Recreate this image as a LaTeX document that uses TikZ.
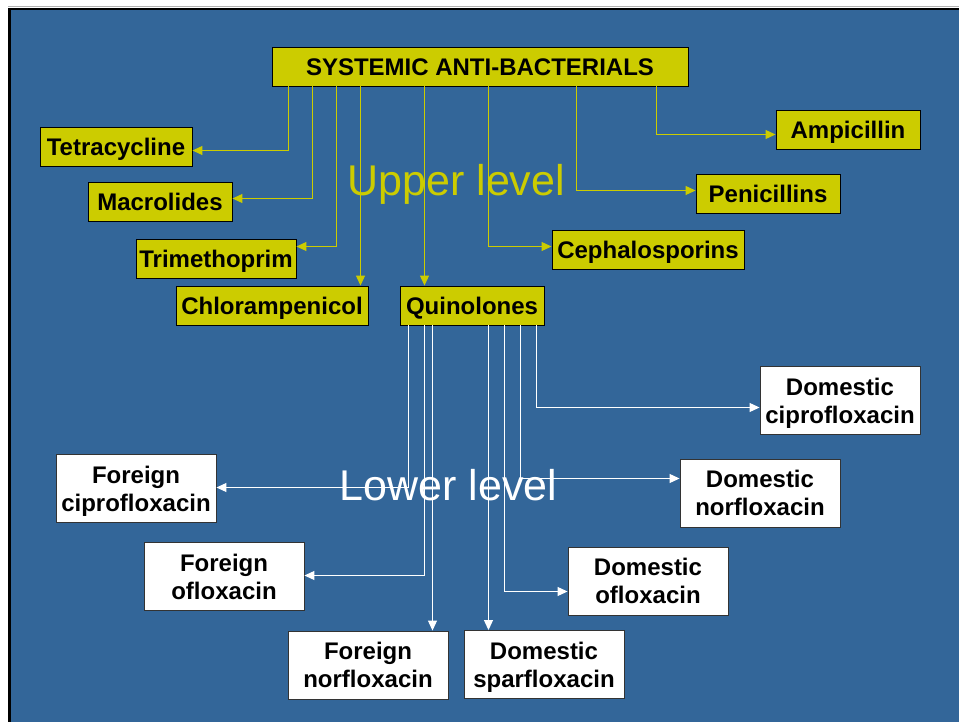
\documentclass[tikz,border=0pt]{standalone}
\usepackage{fontspec}
\setmainfont{Liberation Sans}
\usetikzlibrary{arrows.meta}
\definecolor{bgblue}{HTML}{336699}
\definecolor{ylw}{HTML}{CCCC00}
\begin{document}
\begin{tikzpicture}[x=1pt,y=-1pt,
 ybox/.style={draw=black, line width=0.9pt, fill=ylw, inner sep=0pt, minimum height=39pt, text height=17.2pt, text depth=0pt, font=\fontsize{24}{28}\selectfont\bfseries},
 wbox/.style={draw=black!80, line width=0.9pt, fill=white, inner sep=0pt, minimum width=160pt, minimum height=68pt, text depth=0pt, align=center, font=\fontsize{24}{28}\selectfont\bfseries},
 yarr/.style={draw=ylw, line width=1.1pt, xshift=0.5pt, yshift=-0.5pt, -{Triangle[length=10pt,width=9pt]}},
 warr/.style={draw=white, line width=1.1pt, xshift=0.5pt, yshift=-0.5pt, -{Triangle[length=10pt,width=9pt]}},
 bigtxt/.style={font=\fontsize{43}{50}\selectfont, inner sep=0pt, anchor=base west}]
\useasboundingbox (0,0) rectangle (959,722);
\fill[white] (0,0) rectangle (959,722);
\draw[gray!60, line width=0.8pt] (8,6.5) -- (959,6.5);
\draw[fill=bgblue, draw=black, line width=2.5pt] (9.5,9) rectangle (975,740);

% upper level nodes
\node[ybox, minimum width=416pt] (sys) at (480,66.5) {SYSTEMIC ANTI-BACTERIALS};
\node[ybox, minimum width=152pt] (tet) at (116,146.5) {Tetracycline};
\node[ybox, minimum width=144pt] (mac) at (160,201.5) {Macrolides};
\node[ybox, minimum width=160pt] (tri) at (216,258.5) {Trimethoprim};
\node[ybox, minimum width=192pt] (chl) at (272,305.5) {Chlorampenicol};
\node[ybox, minimum width=144pt] (qui) at (472,305.5) {Quinolones};
\node[ybox, minimum width=144pt] (amp) at (848,129.5) {Ampicillin};
\node[ybox, minimum width=144pt] (pen) at (768,193.5) {Penicillins};
\node[ybox, minimum width=192pt] (cep) at (648,249.5) {Cephalosporins};

% lower level nodes
\node[wbox] (fcip) at (136,488.5) {Foreign\\ciprofloxacin};
\node[wbox] (fofl) at (224,576.5) {Foreign\\ofloxacin};
\node[wbox] (fnor) at (368,665) {Foreign\\norfloxacin};
\node[wbox] (dspar) at (544,664.5) {Domestic\\sparfloxacin};
\node[wbox] (dofl) at (648,581) {Domestic\\ofloxacin};
\node[wbox] (dnor) at (760,493) {Domestic\\norfloxacin};
\node[wbox] (dcip) at (840,400.5) {Domestic\\ciprofloxacin};

% labels
\node[bigtxt, text=ylw] (up) at (347.3,196) {Upper level};

% upper connectors
\draw[yarr] (sys.south -| 288,0) |- (tet.east |- 0,150);
\draw[yarr] (sys.south -| 312,0) |- (mac.east |- 0,198);
\draw[yarr] (sys.south -| 336,0) |- (tri.east |- 0,246);
\draw[yarr] (sys.south -| 360,0) -- (chl.north -| 360,0);
\draw[yarr] (sys.south -| 424,0) -- (qui.north -| 424,0);
\draw[yarr] (sys.south -| 488,0) |- (cep.west |- 0,246);
\draw[yarr] (sys.south -| 576,0) |- (pen.west |- 0,190);
\draw[yarr] (sys.south -| 656,0) |- (amp.west |- 0,134);

% lower connectors
\draw[warr] (qui.south -| 408,0) |- (fcip.east |- 0,487);
\draw[warr] (qui.south -| 424,0) |- (fofl.east |- 0,575);
\draw[warr] (qui.south -| 432,0) -- (fnor.north -| 432,0);
\draw[warr] (qui.south -| 488,0) -- (dspar.north -| 488,0);
\draw[warr] (qui.south -| 504,0) |- (dofl.west |- 0,591);
\draw[warr] (qui.south -| 520,0) |- (dnor.west |- 0,478);
\draw[warr] (qui.south -| 536,0) |- (dcip.west |- 0,407);

\node[bigtxt, text=white] (low) at (339.6,500) {Lower level};
\end{tikzpicture}
\end{document}
